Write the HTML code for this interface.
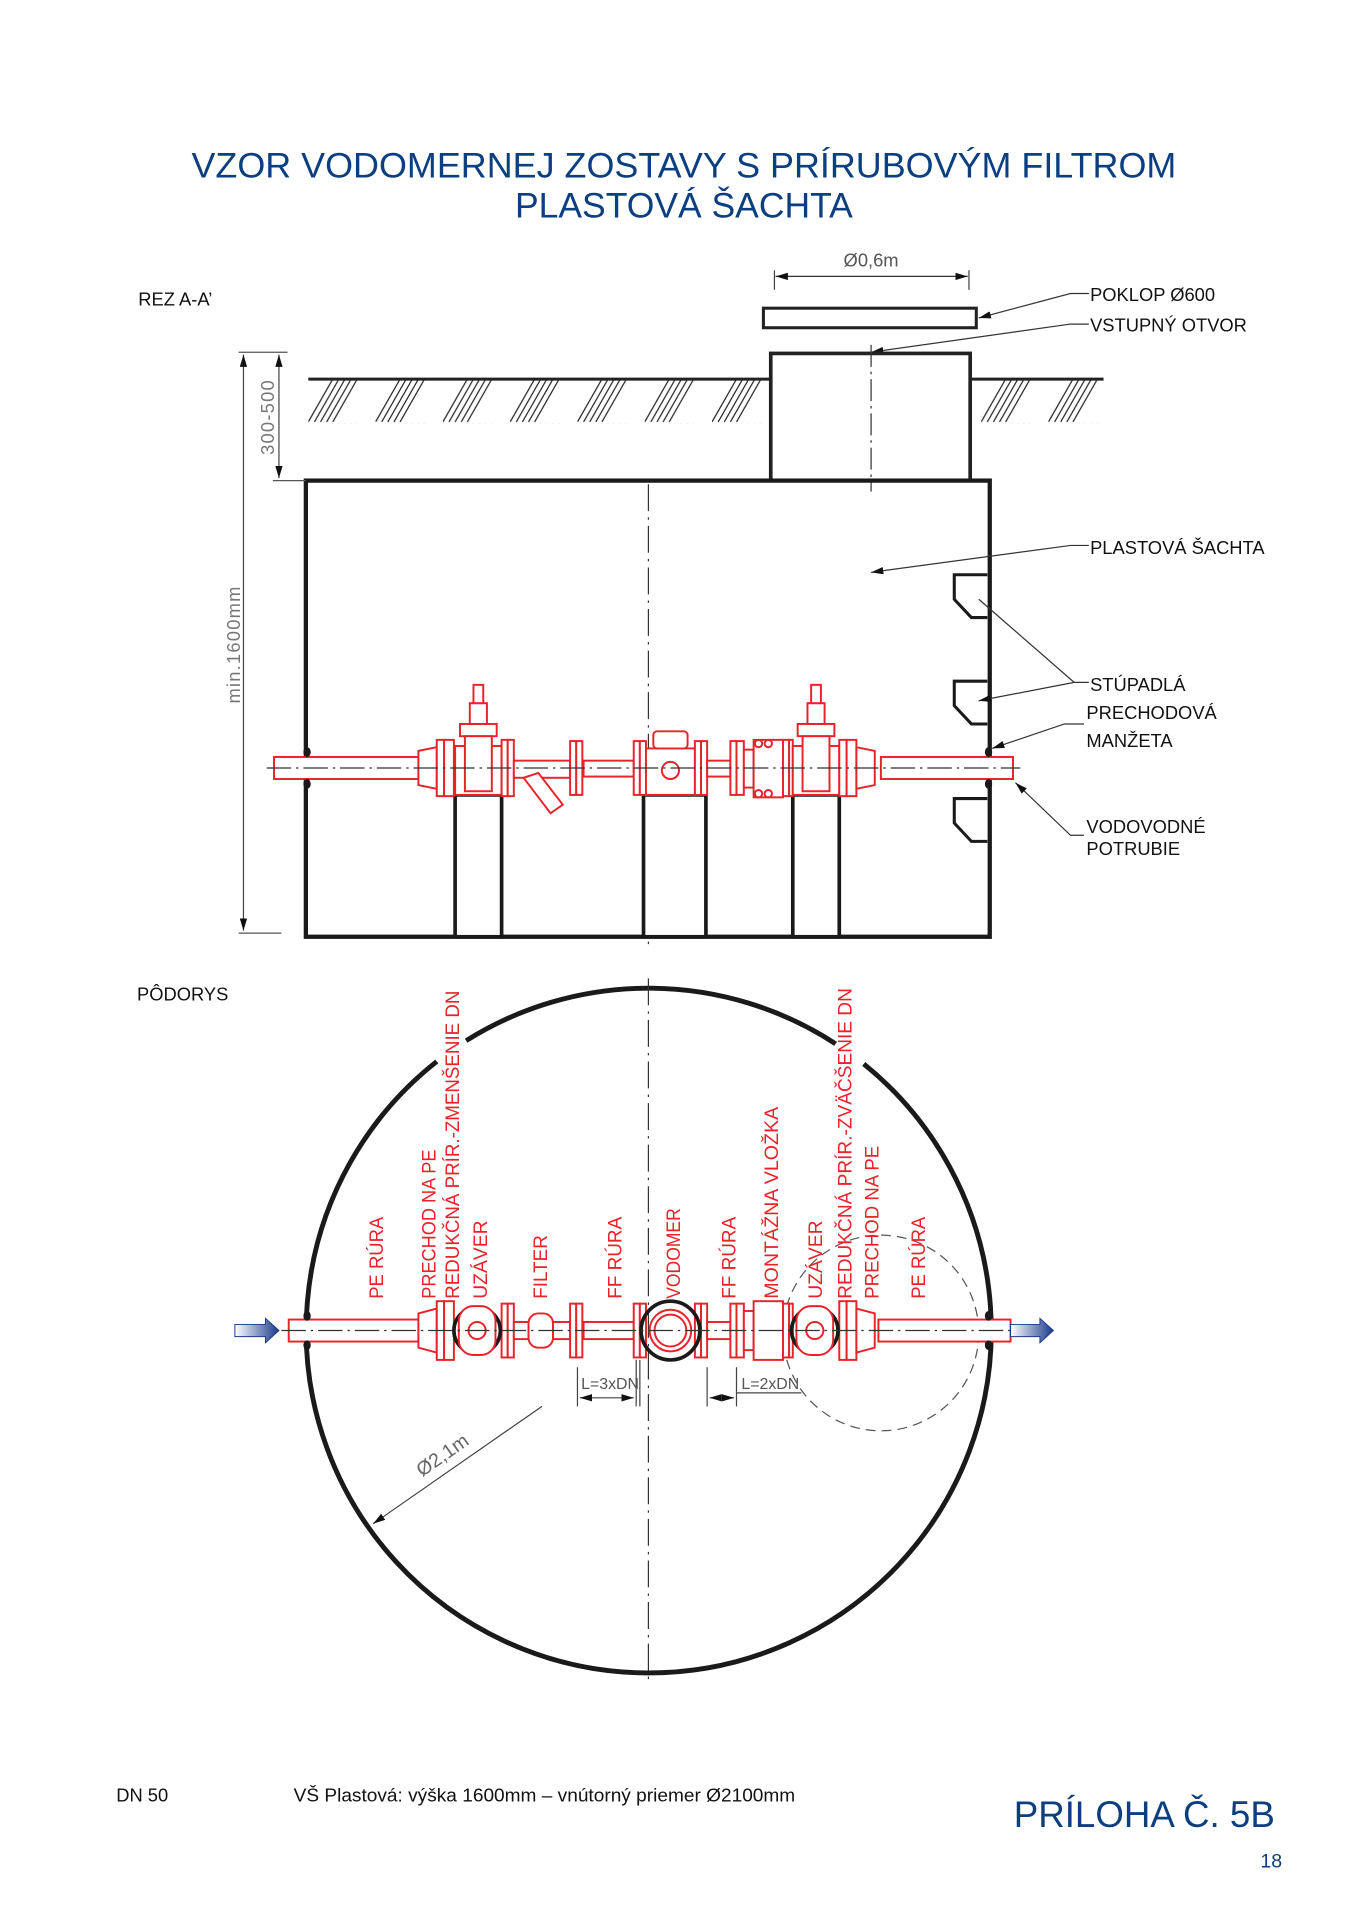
<!DOCTYPE html>
<html><head><meta charset="utf-8"><style>
html,body{margin:0;padding:0;background:#fff;}
svg{display:block;}
text{font-family:"Liberation Sans",sans-serif;}
</style></head><body>
<svg width="1358" height="1920" viewBox="0 0 1110 1570" preserveAspectRatio="none" xmlns="http://www.w3.org/2000/svg">
<defs>
<pattern id="hat" patternUnits="userSpaceOnUse" x="252" y="310" width="55" height="36">
<g stroke="#222" stroke-width="1">
<line x1="0" y1="35" x2="20" y2="0"/><line x1="5" y1="35" x2="25" y2="0"/><line x1="10" y1="35" x2="30" y2="0"/><line x1="15" y1="35" x2="35" y2="0"/><line x1="20" y1="35" x2="40" y2="0"/>
</g></pattern>
<marker id="ar" markerWidth="10" markerHeight="6" refX="10" refY="3" orient="auto" markerUnits="userSpaceOnUse"><path d="M0,0 L10,3 L0,6z" fill="#111"/></marker>
<marker id="al" markerWidth="10" markerHeight="6" refX="0" refY="3" orient="auto" markerUnits="userSpaceOnUse"><path d="M10,0 L0,3 L10,6z" fill="#111"/></marker>
<linearGradient id="bl" x1="0" x2="1"><stop offset="0" stop-color="#fff"/><stop offset="1" stop-color="#1a3a8a"/></linearGradient>
</defs>

<!-- title -->
<text x="559" y="145" font-size="29" fill="#0b3f80" text-anchor="middle" textLength="805" lengthAdjust="spacingAndGlyphs">VZOR VODOMERNEJ ZOSTAVY S PRÍRUBOVÝM FILTROM</text>
<text x="559" y="178" font-size="29" fill="#0b3f80" text-anchor="middle">PLASTOVÁ ŠACHTA</text>

<g font-size="15" fill="#111">
<text x="113" y="250">REZ A-A’</text>
<text x="891" y="246">POKLOP Ø600</text>
<text x="891" y="271">VSTUPNÝ OTVOR</text>
<text x="891" y="453">PLASTOVÁ ŠACHTA</text>
<text x="891" y="565">STÚPADLÁ</text>
<text x="888" y="588">PRECHODOVÁ</text>
<text x="888" y="611">MANŽETA</text>
<text x="888" y="681">VODOVODNÉ</text>
<text x="888" y="699">POTRUBIE</text>
<text x="112" y="818">PÔDORYS</text>
</g>

<!-- dimension 0.6 -->
<text x="712" y="218" font-size="15" fill="#555" text-anchor="middle">Ø0,6m</text>
<line x1="633" y1="221" x2="633" y2="237" stroke="#444"/><line x1="792" y1="221" x2="792" y2="237" stroke="#444"/>
<line x1="634" y1="226" x2="791" y2="226" stroke="#333" marker-start="url(#al)" marker-end="url(#ar)"/>
<rect x="624" y="252" width="174" height="16" fill="none" stroke="#222" stroke-width="2.5"/>
<polyline points="800,260 875,240 890,240" fill="none" stroke="#333" marker-start="url(#al)"/>
<polyline points="712,288 875,265 890,265" fill="none" stroke="#333" marker-start="url(#al)"/>

<!-- ground & hatch -->
<rect x="252" y="311" width="378" height="35" fill="url(#hat)"/>
<rect x="793" y="311" width="109" height="35" fill="url(#hat)"/>
<line x1="252" y1="310" x2="630" y2="310" stroke="#222" stroke-width="2.5"/>
<line x1="793" y1="310" x2="902" y2="310" stroke="#222" stroke-width="2.5"/>
<rect x="630" y="289" width="163" height="104" fill="#fff" stroke="#222" stroke-width="3"/>
<line x1="712" y1="282" x2="712" y2="402" stroke="#333" stroke-dasharray="18 4 2 4"/>

<!-- shaft -->
<rect x="250" y="393" width="559" height="373" fill="none" stroke="#1a1a1a" stroke-width="3.5"/>
<line x1="530" y1="396" x2="530" y2="772" stroke="#333" stroke-dasharray="22 5 2 5"/>
<g fill="none" stroke="#1a1a1a" stroke-width="2.5">
<polyline points="807,470 780,470 780,490 794,505 807,505"/>
<polyline points="807,557 780,557 780,577 794,592 807,592"/>
<polyline points="807,653 780,653 780,673 794,688 807,688"/>
</g>
<!-- dims left -->
<line x1="195" y1="288" x2="235" y2="288" stroke="#555"/>
<line x1="195" y1="763" x2="230" y2="763" stroke="#555"/>
<line x1="223" y1="393" x2="250" y2="393" stroke="#555"/>
<line x1="199" y1="290" x2="199" y2="761" stroke="#444" marker-start="url(#al)" marker-end="url(#ar)"/>
<line x1="228" y1="290" x2="228" y2="391" stroke="#444" marker-start="url(#al)" marker-end="url(#ar)"/>
<text transform="translate(196,527) rotate(-90)" font-size="15" fill="#777" text-anchor="middle" letter-spacing="1">min.1600mm</text>
<text transform="translate(224,341) rotate(-90)" font-size="15" fill="#777" text-anchor="middle" letter-spacing="1">300-500</text>

<!-- leaders -->
<polyline points="712,468 875,446 890,446" fill="none" stroke="#333" marker-start="url(#al)"/>
<polyline points="800,490 878,558 890,558" fill="none" stroke="#333"/>
<polyline points="800,573 878,558" fill="none" stroke="#333" marker-start="url(#al)"/>
<polyline points="811,612 870,592 886,592" fill="none" stroke="#333" marker-start="url(#al)"/>
<polyline points="830,640 875,683 886,683" fill="none" stroke="#333" marker-start="url(#al)"/>

<!-- supports -->
<g fill="#fff" stroke="#1a1a1a" stroke-width="3">
<rect x="372" y="650" width="38" height="116"/>
<rect x="526" y="650" width="51" height="116"/>
<rect x="648" y="650" width="38" height="116"/>
</g>

<!-- section pipe assembly -->
<g fill="#fff" stroke="#e8232a" stroke-width="1.6">
<rect x="224" y="619" width="118" height="18"/>
<polygon points="342,614 357,611 357,645 342,642"/>
<rect x="357" y="605" width="6" height="46"/><rect x="363" y="605" width="8" height="46"/>
<rect x="372" y="610" width="38" height="40"/>
<rect x="376" y="592" width="30" height="10"/><rect x="380" y="602" width="22" height="45"/>
<rect x="384" y="575" width="14" height="17"/><rect x="387" y="560" width="8" height="15"/>
<rect x="410" y="605" width="5" height="46"/><rect x="415" y="605" width="5" height="46"/>
<rect x="420" y="622" width="46" height="14"/>
<polygon points="428,636 450,665 460,658 440,632"/>
<rect x="466" y="606" width="5" height="44"/><rect x="471" y="606" width="5" height="44"/>
<rect x="477" y="622" width="41" height="13"/>
<rect x="518" y="606" width="5" height="44"/><rect x="523" y="606" width="5" height="44"/>
<rect x="528" y="612" width="40" height="38"/>
<rect x="534" y="598" width="28" height="14" rx="3"/>
<circle cx="548" cy="630" r="7"/>
<rect x="568" y="606" width="5" height="44"/><rect x="573" y="606" width="5" height="44"/>
<rect x="578" y="622" width="19" height="13"/>
<rect x="597" y="606" width="5" height="44"/><rect x="602" y="606" width="6" height="44"/>
<rect x="608" y="613" width="8" height="31"/><rect x="616" y="605" width="24" height="47"/>
<circle cx="620" cy="608" r="3"/><circle cx="628" cy="608" r="3"/><circle cx="620" cy="649" r="3"/><circle cx="628" cy="649" r="3"/>
<rect x="640" y="605" width="5" height="46"/><rect x="645" y="605" width="3" height="46"/>
<rect x="648" y="610" width="38" height="40"/>
<rect x="652" y="592" width="30" height="10"/><rect x="656" y="602" width="22" height="45"/>
<rect x="660" y="575" width="14" height="17"/><rect x="663" y="560" width="8" height="15"/>
<rect x="686" y="605" width="6" height="46"/><rect x="692" y="605" width="8" height="46"/>
<polygon points="700,611 715,614 715,642 700,645"/>
<rect x="720" y="619" width="108" height="18"/>
</g>
<line x1="218" y1="628" x2="834" y2="628" stroke="#333" stroke-width="1" stroke-dasharray="20 4 2 4"/>
<g fill="#1a1a1a"><ellipse cx="251" cy="615" rx="3" ry="4"/><ellipse cx="251" cy="641" rx="3" ry="4"/><ellipse cx="808" cy="615" rx="3" ry="4"/><ellipse cx="808" cy="641" rx="3" ry="4"/></g>

<!-- plan circle -->
<path d="M381,851 A280,280 0 0 1 683,853.5" fill="none" stroke="#1a1a1a" stroke-width="4"/>
<path d="M706,870 A280,280 0 1 1 357,868" fill="none" stroke="#1a1a1a" stroke-width="4"/>
<line x1="530" y1="800" x2="530" y2="1378" stroke="#333" stroke-dasharray="22 5 2 5"/>
<circle cx="720" cy="1090" r="80" fill="none" stroke="#555" stroke-dasharray="8 5"/>

<!-- plan pipe -->
<g fill="#fff" stroke="#e8232a" stroke-width="1.6">
<rect x="236" y="1079" width="106" height="18"/>
<polygon points="342,1074 357,1070 357,1106 342,1102"/>
<rect x="357" y="1064" width="6" height="48"/><rect x="363" y="1064" width="8" height="48"/>
<rect x="410" y="1066" width="5" height="44"/><rect x="415" y="1066" width="5" height="44"/>
<rect x="420" y="1081" width="46" height="14"/>
<rect x="432" y="1074" width="20" height="28" rx="8"/>
<rect x="466" y="1066" width="5" height="44"/><rect x="471" y="1066" width="5" height="44"/>
<rect x="477" y="1081" width="41" height="14"/>
<rect x="518" y="1066" width="5" height="44"/><rect x="523" y="1066" width="5" height="44"/>
<rect x="568" y="1066" width="5" height="44"/><rect x="573" y="1066" width="5" height="44"/>
<rect x="578" y="1081" width="19" height="14"/>
<rect x="597" y="1066" width="5" height="44"/><rect x="602" y="1066" width="6" height="44"/>
<rect x="608" y="1072" width="8" height="32"/><rect x="616" y="1064" width="24" height="48"/>
<rect x="640" y="1066" width="5" height="44"/><rect x="645" y="1066" width="3" height="44"/>
<rect x="686" y="1064" width="6" height="48"/><rect x="692" y="1064" width="8" height="48"/>
<polygon points="700,1070 715,1074 715,1102 700,1106"/>
<rect x="718" y="1079" width="108" height="18"/>
</g>
<g fill="none" stroke="#1a1a1a" stroke-width="3">
<circle cx="390" cy="1088" r="19"/><circle cx="666" cy="1088" r="19"/><circle cx="548" cy="1088" r="24"/>
</g>
<g fill="#fff" stroke="#e8232a" stroke-width="1.6">
<rect x="375" y="1068" width="30" height="40" rx="12"/><circle cx="390" cy="1088" r="7"/>
<rect x="651" y="1068" width="30" height="40" rx="12"/><circle cx="666" cy="1088" r="7"/>
<circle cx="548" cy="1088" r="17"/><circle cx="548" cy="1088" r="13"/>
</g>
<line x1="230" y1="1088" x2="830" y2="1088" stroke="#333" stroke-width="1" stroke-dasharray="20 4 2 4"/>
<g fill="#1a1a1a"><ellipse cx="251" cy="1076" rx="3" ry="4"/><ellipse cx="251" cy="1100" rx="3" ry="4"/><ellipse cx="808" cy="1076" rx="3" ry="4"/><ellipse cx="808" cy="1100" rx="3" ry="4"/></g>
<polygon points="192,1083 217,1083 217,1078 228,1088 217,1098 217,1093 192,1093" fill="url(#bl)" stroke="#1a3a8a" stroke-width="0.8"/>
<polygon points="826,1083 850,1083 850,1078 861,1088 850,1098 850,1093 826,1093" fill="url(#bl)" stroke="#1a3a8a" stroke-width="0.8"/>

<!-- plan dims -->
<g stroke="#444" stroke-width="1" fill="none">
<line x1="472" y1="1118" x2="472" y2="1150"/><line x1="520" y1="1112" x2="520" y2="1150"/><line x1="523" y1="1112" x2="523" y2="1150"/>
<line x1="474" y1="1143" x2="518" y2="1143" marker-start="url(#al)" marker-end="url(#ar)"/>
<line x1="578" y1="1118" x2="578" y2="1150"/><line x1="602" y1="1118" x2="602" y2="1150"/>
<line x1="580" y1="1143" x2="600" y2="1143" marker-start="url(#al)" marker-end="url(#ar)"/>
<line x1="602" y1="1139" x2="655" y2="1139"/>
<line x1="443" y1="1150" x2="305" y2="1246" marker-end="url(#ar)"/>
</g>
<text x="475" y="1136" font-size="13" fill="#555">L=3xDN</text>
<text x="606" y="1136" font-size="13" fill="#555">L=2xDN</text>
<text transform="translate(345,1208) rotate(-35)" font-size="16" fill="#666">Ø2,1m</text>

<!-- red vertical labels -->
<g font-size="16" fill="#e8232a">
<text transform="translate(313,1062) rotate(-90)" textLength="67" lengthAdjust="spacingAndGlyphs">PE RÚRA</text>
<text transform="translate(356,1062) rotate(-90)" textLength="122" lengthAdjust="spacingAndGlyphs">PRECHOD NA PE</text>
<text transform="translate(375,1062) rotate(-90)" textLength="252" lengthAdjust="spacingAndGlyphs">REDUKČNÁ PRÍR.-ZMENŠENIE DN</text>
<text transform="translate(398,1062) rotate(-90)" textLength="64" lengthAdjust="spacingAndGlyphs">UZÁVER</text>
<text transform="translate(447,1062) rotate(-90)" textLength="52" lengthAdjust="spacingAndGlyphs">FILTER</text>
<text transform="translate(508,1062) rotate(-90)" textLength="67" lengthAdjust="spacingAndGlyphs">FF RÚRA</text>
<text transform="translate(556,1062) rotate(-90)" textLength="74" lengthAdjust="spacingAndGlyphs">VODOMER</text>
<text transform="translate(601,1062) rotate(-90)" textLength="67" lengthAdjust="spacingAndGlyphs">FF RÚRA</text>
<text transform="translate(636,1062) rotate(-90)" textLength="157" lengthAdjust="spacingAndGlyphs">MONTÁŽNA VLOŽKA</text>
<text transform="translate(672,1062) rotate(-90)" textLength="64" lengthAdjust="spacingAndGlyphs">UZÁVER</text>
<text transform="translate(696,1062) rotate(-90)" textLength="254" lengthAdjust="spacingAndGlyphs">REDUKČNÁ PRÍR.-ZVÄČŠENIE DN</text>
<text transform="translate(718,1062) rotate(-90)" textLength="125" lengthAdjust="spacingAndGlyphs">PRECHOD NA PE</text>
<text transform="translate(756,1062) rotate(-90)" textLength="67" lengthAdjust="spacingAndGlyphs">PE RÚRA</text>
</g>

<!-- footer -->
<text x="95" y="1473" font-size="15" fill="#111">DN 50</text>
<text x="240" y="1473" font-size="15" fill="#111" textLength="410" lengthAdjust="spacingAndGlyphs">VŠ Plastová: výška 1600mm – vnútorný priemer Ø2100mm</text>
<text x="1042" y="1494" font-size="30" fill="#0b3f80" text-anchor="end">PRÍLOHA Č. 5B</text>
<text x="1048" y="1527" font-size="16" fill="#0b3f80" text-anchor="end">18</text>
</svg>
</body></html>
